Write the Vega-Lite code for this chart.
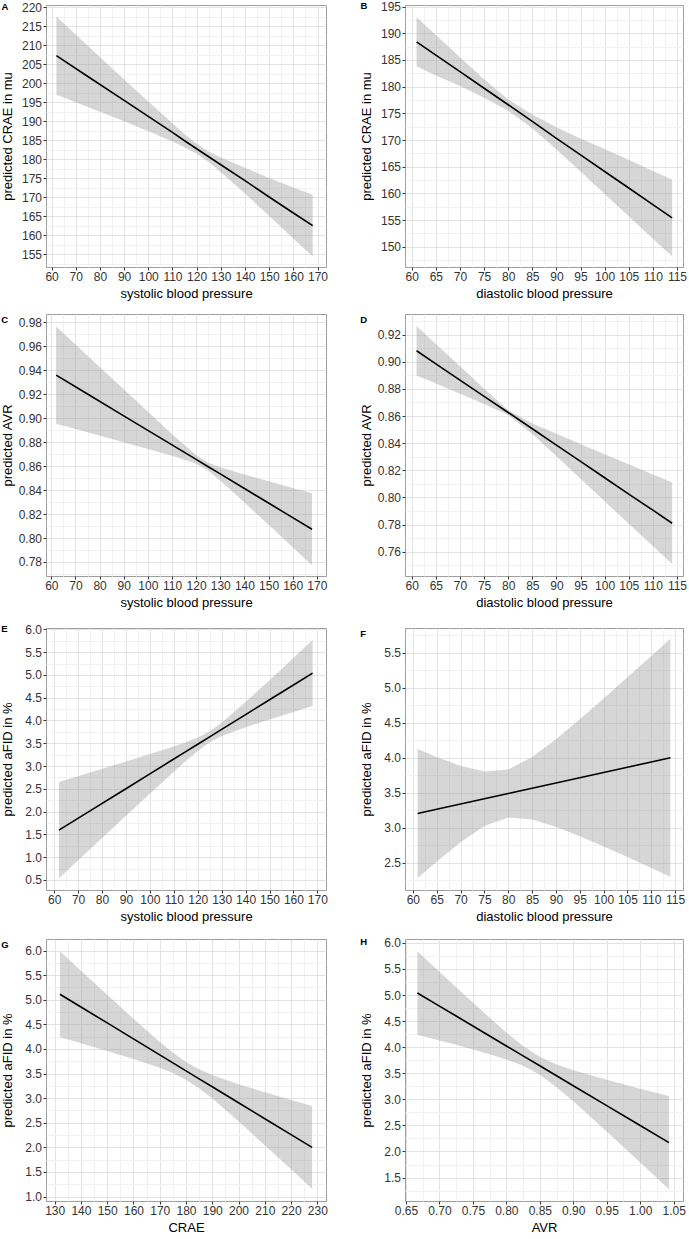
{
  "$schema": "https://vega.github.io/schema/vega-lite/v6.json",
  "padding": {"left": 0, "top": 0, "right": 0, "bottom": 0},
  "background": "white",
  "columns": 2,
  "align": {"row": "each", "column": "each"},
  "spacing": {"row": 12, "column": 30},
  "datasets": {
    "A": [
      {"x": 62, "fit": 207.3, "lo": 197.0, "hi": 217.6},
      {"x": 75, "fit": 201.8, "lo": 193.8, "hi": 209.9},
      {"x": 90, "fit": 195.5, "lo": 190.0, "hi": 201.0},
      {"x": 100, "fit": 191.3, "lo": 187.4, "hi": 195.2},
      {"x": 110, "fit": 187.1, "lo": 184.7, "hi": 189.5},
      {"x": 115, "fit": 184.9, "lo": 183.2, "hi": 186.6},
      {"x": 120, "fit": 182.8, "lo": 181.5, "hi": 184.1},
      {"x": 125, "fit": 180.7, "lo": 179.3, "hi": 182.1},
      {"x": 130, "fit": 178.6, "lo": 176.6, "hi": 180.5},
      {"x": 140, "fit": 174.4, "lo": 171.0, "hi": 177.8},
      {"x": 150, "fit": 170.1, "lo": 165.1, "hi": 175.1},
      {"x": 160, "fit": 165.9, "lo": 159.2, "hi": 172.6},
      {"x": 168, "fit": 162.6, "lo": 154.5, "hi": 170.7}
    ],
    "B": [
      {"x": 61, "fit": 188.4, "lo": 183.8, "hi": 193.0},
      {"x": 65, "fit": 185.9, "lo": 182.1, "hi": 189.7},
      {"x": 70, "fit": 182.8, "lo": 180.1, "hi": 185.5},
      {"x": 75, "fit": 179.7, "lo": 177.9, "hi": 181.4},
      {"x": 80, "fit": 176.6, "lo": 175.5, "hi": 177.6},
      {"x": 85, "fit": 173.5, "lo": 172.2, "hi": 174.8},
      {"x": 90, "fit": 170.3, "lo": 168.2, "hi": 172.4},
      {"x": 95, "fit": 167.2, "lo": 164.1, "hi": 170.3},
      {"x": 100, "fit": 164.1, "lo": 159.9, "hi": 168.3},
      {"x": 105, "fit": 161.0, "lo": 155.7, "hi": 166.3},
      {"x": 110, "fit": 157.9, "lo": 151.5, "hi": 164.2},
      {"x": 114, "fit": 155.4, "lo": 148.2, "hi": 162.6}
    ],
    "C": [
      {"x": 62, "fit": 0.9360, "lo": 0.8954, "hi": 0.9766},
      {"x": 75, "fit": 0.9202, "lo": 0.8882, "hi": 0.9522},
      {"x": 90, "fit": 0.9020, "lo": 0.8799, "hi": 0.9241},
      {"x": 100, "fit": 0.8899, "lo": 0.8743, "hi": 0.9055},
      {"x": 110, "fit": 0.8777, "lo": 0.8686, "hi": 0.8868},
      {"x": 115, "fit": 0.8717, "lo": 0.8656, "hi": 0.8778},
      {"x": 120, "fit": 0.8656, "lo": 0.8620, "hi": 0.8692},
      {"x": 125, "fit": 0.8595, "lo": 0.8562, "hi": 0.8628},
      {"x": 130, "fit": 0.8535, "lo": 0.8480, "hi": 0.8590},
      {"x": 140, "fit": 0.8413, "lo": 0.8296, "hi": 0.8530},
      {"x": 150, "fit": 0.8292, "lo": 0.8110, "hi": 0.8474},
      {"x": 160, "fit": 0.8170, "lo": 0.7923, "hi": 0.8418},
      {"x": 168, "fit": 0.8073, "lo": 0.7773, "hi": 0.8373}
    ],
    "D": [
      {"x": 61, "fit": 0.9081, "lo": 0.8898, "hi": 0.9264},
      {"x": 65, "fit": 0.8985, "lo": 0.8839, "hi": 0.9131},
      {"x": 70, "fit": 0.8865, "lo": 0.8764, "hi": 0.8966},
      {"x": 75, "fit": 0.8745, "lo": 0.8688, "hi": 0.8802},
      {"x": 80, "fit": 0.8626, "lo": 0.8608, "hi": 0.8643},
      {"x": 85, "fit": 0.8506, "lo": 0.8467, "hi": 0.8545},
      {"x": 90, "fit": 0.8386, "lo": 0.8303, "hi": 0.8469},
      {"x": 95, "fit": 0.8266, "lo": 0.8138, "hi": 0.8394},
      {"x": 100, "fit": 0.8145, "lo": 0.7972, "hi": 0.8319},
      {"x": 105, "fit": 0.8025, "lo": 0.7806, "hi": 0.8244},
      {"x": 110, "fit": 0.7906, "lo": 0.7642, "hi": 0.8170},
      {"x": 114, "fit": 0.7810, "lo": 0.7509, "hi": 0.8111}
    ],
    "E": [
      {"x": 62, "fit": 1.593, "lo": 0.536, "hi": 2.650},
      {"x": 75, "fit": 2.016, "lo": 1.173, "hi": 2.858},
      {"x": 90, "fit": 2.503, "lo": 1.907, "hi": 3.100},
      {"x": 100, "fit": 2.829, "lo": 2.394, "hi": 3.263},
      {"x": 110, "fit": 3.154, "lo": 2.875, "hi": 3.432},
      {"x": 115, "fit": 3.316, "lo": 3.110, "hi": 3.523},
      {"x": 120, "fit": 3.479, "lo": 3.332, "hi": 3.626},
      {"x": 125, "fit": 3.642, "lo": 3.522, "hi": 3.762},
      {"x": 130, "fit": 3.804, "lo": 3.659, "hi": 3.949},
      {"x": 140, "fit": 4.129, "lo": 3.854, "hi": 4.404},
      {"x": 150, "fit": 4.455, "lo": 4.024, "hi": 4.886},
      {"x": 160, "fit": 4.780, "lo": 4.187, "hi": 5.373},
      {"x": 168, "fit": 5.040, "lo": 4.316, "hi": 5.764}
    ],
    "F": [
      {"x": 61, "fit": 3.205, "lo": 2.285, "hi": 4.125},
      {"x": 65, "fit": 3.265, "lo": 2.518, "hi": 4.012},
      {"x": 70, "fit": 3.340, "lo": 2.794, "hi": 3.886},
      {"x": 75, "fit": 3.415, "lo": 3.026, "hi": 3.805},
      {"x": 80, "fit": 3.490, "lo": 3.147, "hi": 3.833},
      {"x": 85, "fit": 3.565, "lo": 3.121, "hi": 4.009},
      {"x": 90, "fit": 3.640, "lo": 3.017, "hi": 4.263},
      {"x": 95, "fit": 3.715, "lo": 2.882, "hi": 4.548},
      {"x": 100, "fit": 3.790, "lo": 2.736, "hi": 4.844},
      {"x": 105, "fit": 3.865, "lo": 2.584, "hi": 5.146},
      {"x": 110, "fit": 3.940, "lo": 2.429, "hi": 5.451},
      {"x": 114, "fit": 4.000, "lo": 2.303, "hi": 5.697}
    ],
    "G": [
      {"x": 132, "fit": 5.113, "lo": 4.238, "hi": 5.988},
      {"x": 140, "fit": 4.853, "lo": 4.114, "hi": 5.592},
      {"x": 150, "fit": 4.529, "lo": 3.958, "hi": 5.100},
      {"x": 160, "fit": 4.204, "lo": 3.795, "hi": 4.613},
      {"x": 170, "fit": 3.880, "lo": 3.617, "hi": 4.143},
      {"x": 175, "fit": 3.718, "lo": 3.510, "hi": 3.926},
      {"x": 180, "fit": 3.556, "lo": 3.375, "hi": 3.737},
      {"x": 185, "fit": 3.393, "lo": 3.200, "hi": 3.586},
      {"x": 190, "fit": 3.231, "lo": 2.992, "hi": 3.470},
      {"x": 200, "fit": 2.907, "lo": 2.529, "hi": 3.285},
      {"x": 210, "fit": 2.582, "lo": 2.044, "hi": 3.120},
      {"x": 220, "fit": 2.258, "lo": 1.553, "hi": 2.963},
      {"x": 228, "fit": 1.999, "lo": 1.158, "hi": 2.840}
    ],
    "H": [
      {"x": 0.667, "fit": 5.040, "lo": 4.240, "hi": 5.840},
      {"x": 0.700, "fit": 4.788, "lo": 4.130, "hi": 5.446},
      {"x": 0.725, "fit": 4.597, "lo": 4.045, "hi": 5.150},
      {"x": 0.750, "fit": 4.406, "lo": 3.957, "hi": 4.855},
      {"x": 0.775, "fit": 4.215, "lo": 3.866, "hi": 4.564},
      {"x": 0.800, "fit": 4.024, "lo": 3.765, "hi": 4.283},
      {"x": 0.825, "fit": 3.834, "lo": 3.644, "hi": 4.024},
      {"x": 0.850, "fit": 3.643, "lo": 3.471, "hi": 3.815},
      {"x": 0.875, "fit": 3.452, "lo": 3.234, "hi": 3.670},
      {"x": 0.900, "fit": 3.261, "lo": 2.962, "hi": 3.560},
      {"x": 0.950, "fit": 2.879, "lo": 2.382, "hi": 3.376},
      {"x": 1.000, "fit": 2.497, "lo": 1.789, "hi": 3.205},
      {"x": 1.043, "fit": 2.169, "lo": 1.276, "hi": 3.062}
    ]
  },
  "concat": [
    {
      "title": "A", "width": 280, "height": 262, "data": {"name": "A"},
      "encoding": {"x": {"field": "x", "type": "quantitative", "scale": {"domain": [57.7, 173.5], "nice": false, "zero": false},
        "axis": {"title": "systolic blood pressure", "values": [60,65,70,75,80,85,90,95,100,105,110,115,120,125,130,135,140,145,150,155,160,165,170], "format": "d",
          "labelExpr": "datum.value % 10 == 0 ? datum.label : ''",
          "gridColor": {"condition": {"test": "datum.value % 10 == 0", "value": "#e3e3e3"}, "value": "#f1f1f1"},
          "tickOpacity": {"condition": {"test": "datum.value % 10 == 0", "value": 1}, "value": 0}}}},
      "layer": [
        {"mark": {"type": "area", "color": "#999999", "opacity": 0.4},
         "encoding": {"y": {"field": "lo", "type": "quantitative", "scale": {"domain": [151.7, 220.6], "nice": false, "zero": false},
           "axis": {"title": "predicted CRAE in mu", "titlePadding": 7, "values": [152.5,155,157.5,160,162.5,165,167.5,170,172.5,175,177.5,180,182.5,185,187.5,190,192.5,195,197.5,200,202.5,205,207.5,210,212.5,215,217.5,220], "format": "d",
             "labelExpr": "datum.value % 5 == 0 ? datum.label : ''",
             "gridColor": {"condition": {"test": "datum.value % 5 == 0", "value": "#e3e3e3"}, "value": "#f1f1f1"},
             "tickOpacity": {"condition": {"test": "datum.value % 5 == 0", "value": 1}, "value": 0}}},
           "y2": {"field": "hi"}}},
        {"mark": {"type": "line", "color": "black", "strokeWidth": 1.6},
         "encoding": {"y": {"field": "fit", "type": "quantitative", "scale": {"domain": [151.7, 220.6], "nice": false, "zero": false},
           "axis": {"title": "predicted CRAE in mu", "titlePadding": 7, "values": [152.5,155,157.5,160,162.5,165,167.5,170,172.5,175,177.5,180,182.5,185,187.5,190,192.5,195,197.5,200,202.5,205,207.5,210,212.5,215,217.5,220], "format": "d",
             "labelExpr": "datum.value % 5 == 0 ? datum.label : ''",
             "gridColor": {"condition": {"test": "datum.value % 5 == 0", "value": "#e3e3e3"}, "value": "#f1f1f1"},
             "tickOpacity": {"condition": {"test": "datum.value % 5 == 0", "value": 1}, "value": 0}}}}}
      ]
    },
    {
      "title": "B", "width": 278, "height": 262, "data": {"name": "B"},
      "encoding": {"x": {"field": "x", "type": "quantitative", "scale": {"domain": [58.6, 116.25], "nice": false, "zero": false},
        "axis": {"title": "diastolic blood pressure", "values": [60,62.5,65,67.5,70,72.5,75,77.5,80,82.5,85,87.5,90,92.5,95,97.5,100,102.5,105,107.5,110,112.5,115], "format": "d",
          "labelExpr": "datum.value % 5 == 0 ? datum.label : ''",
          "gridColor": {"condition": {"test": "datum.value % 5 == 0", "value": "#e3e3e3"}, "value": "#f1f1f1"},
          "tickOpacity": {"condition": {"test": "datum.value % 5 == 0", "value": 1}, "value": 0}}}},
      "layer": [
        {"mark": {"type": "area", "color": "#999999", "opacity": 0.4},
         "encoding": {"y": {"field": "lo", "type": "quantitative", "scale": {"domain": [146.2, 195.3], "nice": false, "zero": false},
           "axis": {"title": "predicted CRAE in mu", "titlePadding": 7, "values": [147.5,150,152.5,155,157.5,160,162.5,165,167.5,170,172.5,175,177.5,180,182.5,185,187.5,190,192.5,195], "format": "d",
             "labelExpr": "datum.value % 5 == 0 ? datum.label : ''",
             "gridColor": {"condition": {"test": "datum.value % 5 == 0", "value": "#e3e3e3"}, "value": "#f1f1f1"},
             "tickOpacity": {"condition": {"test": "datum.value % 5 == 0", "value": 1}, "value": 0}}},
           "y2": {"field": "hi"}}},
        {"mark": {"type": "line", "color": "black", "strokeWidth": 1.6},
         "encoding": {"y": {"field": "fit", "type": "quantitative", "scale": {"domain": [146.2, 195.3], "nice": false, "zero": false},
           "axis": {"title": "predicted CRAE in mu", "titlePadding": 7, "values": [147.5,150,152.5,155,157.5,160,162.5,165,167.5,170,172.5,175,177.5,180,182.5,185,187.5,190,192.5,195], "format": "d",
             "labelExpr": "datum.value % 5 == 0 ? datum.label : ''",
             "gridColor": {"condition": {"test": "datum.value % 5 == 0", "value": "#e3e3e3"}, "value": "#f1f1f1"},
             "tickOpacity": {"condition": {"test": "datum.value % 5 == 0", "value": 1}, "value": 0}}}}}
      ]
    },
    {
      "title": "C", "width": 280, "height": 262, "data": {"name": "C"},
      "encoding": {"x": {"field": "x", "type": "quantitative", "scale": {"domain": [57.8, 173.8], "nice": false, "zero": false},
        "axis": {"title": "systolic blood pressure", "values": [60,65,70,75,80,85,90,95,100,105,110,115,120,125,130,135,140,145,150,155,160,165,170], "format": "d",
          "labelExpr": "datum.value % 10 == 0 ? datum.label : ''",
          "gridColor": {"condition": {"test": "datum.value % 10 == 0", "value": "#e3e3e3"}, "value": "#f1f1f1"},
          "tickOpacity": {"condition": {"test": "datum.value % 10 == 0", "value": 1}, "value": 0}}}},
      "layer": [
        {"mark": {"type": "area", "color": "#999999", "opacity": 0.4},
         "encoding": {"y": {"field": "lo", "type": "quantitative", "scale": {"domain": [0.7683, 0.987], "nice": false, "zero": false},
           "axis": {"title": "predicted AVR", "titlePadding": 4, "values": [0.77,0.78,0.79,0.80,0.81,0.82,0.83,0.84,0.85,0.86,0.87,0.88,0.89,0.90,0.91,0.92,0.93,0.94,0.95,0.96,0.97,0.98], "format": ".2f",
             "labelExpr": "round(datum.value * 100) % 2 == 0 ? datum.label : ''",
             "gridColor": {"condition": {"test": "round(datum.value * 100) % 2 == 0", "value": "#e3e3e3"}, "value": "#f1f1f1"},
             "tickOpacity": {"condition": {"test": "round(datum.value * 100) % 2 == 0", "value": 1}, "value": 0}}},
           "y2": {"field": "hi"}}},
        {"mark": {"type": "line", "color": "black", "strokeWidth": 1.6},
         "encoding": {"y": {"field": "fit", "type": "quantitative", "scale": {"domain": [0.7683, 0.987], "nice": false, "zero": false},
           "axis": {"title": "predicted AVR", "titlePadding": 4, "values": [0.77,0.78,0.79,0.80,0.81,0.82,0.83,0.84,0.85,0.86,0.87,0.88,0.89,0.90,0.91,0.92,0.93,0.94,0.95,0.96,0.97,0.98], "format": ".2f",
             "labelExpr": "round(datum.value * 100) % 2 == 0 ? datum.label : ''",
             "gridColor": {"condition": {"test": "round(datum.value * 100) % 2 == 0", "value": "#e3e3e3"}, "value": "#f1f1f1"},
             "tickOpacity": {"condition": {"test": "round(datum.value * 100) % 2 == 0", "value": 1}, "value": 0}}}}}
      ]
    },
    {
      "title": "D", "width": 278, "height": 262, "data": {"name": "D"},
      "encoding": {"x": {"field": "x", "type": "quantitative", "scale": {"domain": [58.6, 116.25], "nice": false, "zero": false},
        "axis": {"title": "diastolic blood pressure", "values": [60,62.5,65,67.5,70,72.5,75,77.5,80,82.5,85,87.5,90,92.5,95,97.5,100,102.5,105,107.5,110,112.5,115], "format": "d",
          "labelExpr": "datum.value % 5 == 0 ? datum.label : ''",
          "gridColor": {"condition": {"test": "datum.value % 5 == 0", "value": "#e3e3e3"}, "value": "#f1f1f1"},
          "tickOpacity": {"condition": {"test": "datum.value % 5 == 0", "value": 1}, "value": 0}}}},
      "layer": [
        {"mark": {"type": "area", "color": "#999999", "opacity": 0.4},
         "encoding": {"y": {"field": "lo", "type": "quantitative", "scale": {"domain": [0.7421, 0.9352], "nice": false, "zero": false},
           "axis": {"title": "predicted AVR", "titlePadding": 4, "values": [0.75,0.76,0.77,0.78,0.79,0.80,0.81,0.82,0.83,0.84,0.85,0.86,0.87,0.88,0.89,0.90,0.91,0.92,0.93], "format": ".2f",
             "labelExpr": "round(datum.value * 100) % 2 == 0 ? datum.label : ''",
             "gridColor": {"condition": {"test": "round(datum.value * 100) % 2 == 0", "value": "#e3e3e3"}, "value": "#f1f1f1"},
             "tickOpacity": {"condition": {"test": "round(datum.value * 100) % 2 == 0", "value": 1}, "value": 0}}},
           "y2": {"field": "hi"}}},
        {"mark": {"type": "line", "color": "black", "strokeWidth": 1.6},
         "encoding": {"y": {"field": "fit", "type": "quantitative", "scale": {"domain": [0.7421, 0.9352], "nice": false, "zero": false},
           "axis": {"title": "predicted AVR", "titlePadding": 4, "values": [0.75,0.76,0.77,0.78,0.79,0.80,0.81,0.82,0.83,0.84,0.85,0.86,0.87,0.88,0.89,0.90,0.91,0.92,0.93], "format": ".2f",
             "labelExpr": "round(datum.value * 100) % 2 == 0 ? datum.label : ''",
             "gridColor": {"condition": {"test": "round(datum.value * 100) % 2 == 0", "value": "#e3e3e3"}, "value": "#f1f1f1"},
             "tickOpacity": {"condition": {"test": "round(datum.value * 100) % 2 == 0", "value": 1}, "value": 0}}}}}
      ]
    },
    {
      "title": "E", "width": 280, "height": 262, "data": {"name": "E"},
      "encoding": {"x": {"field": "x", "type": "quantitative", "scale": {"domain": [56.6, 173.6], "nice": false, "zero": false},
        "axis": {"title": "systolic blood pressure", "values": [60,65,70,75,80,85,90,95,100,105,110,115,120,125,130,135,140,145,150,155,160,165,170], "format": "d",
          "labelExpr": "datum.value % 10 == 0 ? datum.label : ''",
          "gridColor": {"condition": {"test": "datum.value % 10 == 0", "value": "#e3e3e3"}, "value": "#f1f1f1"},
          "tickOpacity": {"condition": {"test": "datum.value % 10 == 0", "value": 1}, "value": 0}}}},
      "layer": [
        {"mark": {"type": "area", "color": "#999999", "opacity": 0.4},
         "encoding": {"y": {"field": "lo", "type": "quantitative", "scale": {"domain": [0.28, 6.03], "nice": false, "zero": false},
           "axis": {"title": "predicted aFID in %", "titlePadding": 10.5, "values": [0.5,0.75,1.0,1.25,1.5,1.75,2.0,2.25,2.5,2.75,3.0,3.25,3.5,3.75,4.0,4.25,4.5,4.75,5.0,5.25,5.5,5.75,6.0], "format": ".1f",
             "labelExpr": "round(datum.value * 100) % 50 == 0 ? datum.label : ''",
             "gridColor": {"condition": {"test": "round(datum.value * 100) % 50 == 0", "value": "#e3e3e3"}, "value": "#f1f1f1"},
             "tickOpacity": {"condition": {"test": "round(datum.value * 100) % 50 == 0", "value": 1}, "value": 0}}},
           "y2": {"field": "hi"}}},
        {"mark": {"type": "line", "color": "black", "strokeWidth": 1.6},
         "encoding": {"y": {"field": "fit", "type": "quantitative", "scale": {"domain": [0.28, 6.03], "nice": false, "zero": false},
           "axis": {"title": "predicted aFID in %", "titlePadding": 10.5, "values": [0.5,0.75,1.0,1.25,1.5,1.75,2.0,2.25,2.5,2.75,3.0,3.25,3.5,3.75,4.0,4.25,4.5,4.75,5.0,5.25,5.5,5.75,6.0], "format": ".1f",
             "labelExpr": "round(datum.value * 100) % 50 == 0 ? datum.label : ''",
             "gridColor": {"condition": {"test": "round(datum.value * 100) % 50 == 0", "value": "#e3e3e3"}, "value": "#f1f1f1"},
             "tickOpacity": {"condition": {"test": "round(datum.value * 100) % 50 == 0", "value": 1}, "value": 0}}}}}
      ]
    },
    {
      "title": "F", "width": 278, "height": 262, "data": {"name": "F"},
      "encoding": {"x": {"field": "x", "type": "quantitative", "scale": {"domain": [58.35, 116.65], "nice": false, "zero": false},
        "axis": {"title": "diastolic blood pressure", "values": [60,62.5,65,67.5,70,72.5,75,77.5,80,82.5,85,87.5,90,92.5,95,97.5,100,102.5,105,107.5,110,112.5,115], "format": "d",
          "labelExpr": "datum.value % 5 == 0 ? datum.label : ''",
          "gridColor": {"condition": {"test": "datum.value % 5 == 0", "value": "#e3e3e3"}, "value": "#f1f1f1"},
          "tickOpacity": {"condition": {"test": "datum.value % 5 == 0", "value": 1}, "value": 0}}}},
      "layer": [
        {"mark": {"type": "area", "color": "#999999", "opacity": 0.4},
         "encoding": {"y": {"field": "lo", "type": "quantitative", "scale": {"domain": [2.114, 5.85], "nice": false, "zero": false},
           "axis": {"title": "predicted aFID in %", "titlePadding": 10.5, "values": [2.25,2.5,2.75,3.0,3.25,3.5,3.75,4.0,4.25,4.5,4.75,5.0,5.25,5.5,5.75], "format": ".1f",
             "labelExpr": "round(datum.value * 100) % 50 == 0 ? datum.label : ''",
             "gridColor": {"condition": {"test": "round(datum.value * 100) % 50 == 0", "value": "#e3e3e3"}, "value": "#f1f1f1"},
             "tickOpacity": {"condition": {"test": "round(datum.value * 100) % 50 == 0", "value": 1}, "value": 0}}},
           "y2": {"field": "hi"}}},
        {"mark": {"type": "line", "color": "black", "strokeWidth": 1.6},
         "encoding": {"y": {"field": "fit", "type": "quantitative", "scale": {"domain": [2.114, 5.85], "nice": false, "zero": false},
           "axis": {"title": "predicted aFID in %", "titlePadding": 10.5, "values": [2.25,2.5,2.75,3.0,3.25,3.5,3.75,4.0,4.25,4.5,4.75,5.0,5.25,5.5,5.75], "format": ".1f",
             "labelExpr": "round(datum.value * 100) % 50 == 0 ? datum.label : ''",
             "gridColor": {"condition": {"test": "round(datum.value * 100) % 50 == 0", "value": "#e3e3e3"}, "value": "#f1f1f1"},
             "tickOpacity": {"condition": {"test": "round(datum.value * 100) % 50 == 0", "value": 1}, "value": 0}}}}}
      ]
    },
    {
      "title": "G", "width": 280, "height": 262, "data": {"name": "G"},
      "encoding": {"x": {"field": "x", "type": "quantitative", "scale": {"domain": [126.7, 233.3], "nice": false, "zero": false},
        "axis": {"title": "CRAE", "values": [130,135,140,145,150,155,160,165,170,175,180,185,190,195,200,205,210,215,220,225,230], "format": "d",
          "labelExpr": "datum.value % 10 == 0 ? datum.label : ''",
          "gridColor": {"condition": {"test": "datum.value % 10 == 0", "value": "#e3e3e3"}, "value": "#f1f1f1"},
          "tickOpacity": {"condition": {"test": "datum.value % 10 == 0", "value": 1}, "value": 0}}}},
      "layer": [
        {"mark": {"type": "area", "color": "#999999", "opacity": 0.4},
         "encoding": {"y": {"field": "lo", "type": "quantitative", "scale": {"domain": [0.91, 6.235], "nice": false, "zero": false},
           "axis": {"title": "predicted aFID in %", "titlePadding": 10.5, "values": [1.0,1.25,1.5,1.75,2.0,2.25,2.5,2.75,3.0,3.25,3.5,3.75,4.0,4.25,4.5,4.75,5.0,5.25,5.5,5.75,6.0], "format": ".1f",
             "labelExpr": "round(datum.value * 100) % 50 == 0 ? datum.label : ''",
             "gridColor": {"condition": {"test": "round(datum.value * 100) % 50 == 0", "value": "#e3e3e3"}, "value": "#f1f1f1"},
             "tickOpacity": {"condition": {"test": "round(datum.value * 100) % 50 == 0", "value": 1}, "value": 0}}},
           "y2": {"field": "hi"}}},
        {"mark": {"type": "line", "color": "black", "strokeWidth": 1.6},
         "encoding": {"y": {"field": "fit", "type": "quantitative", "scale": {"domain": [0.91, 6.235], "nice": false, "zero": false},
           "axis": {"title": "predicted aFID in %", "titlePadding": 10.5, "values": [1.0,1.25,1.5,1.75,2.0,2.25,2.5,2.75,3.0,3.25,3.5,3.75,4.0,4.25,4.5,4.75,5.0,5.25,5.5,5.75,6.0], "format": ".1f",
             "labelExpr": "round(datum.value * 100) % 50 == 0 ? datum.label : ''",
             "gridColor": {"condition": {"test": "round(datum.value * 100) % 50 == 0", "value": "#e3e3e3"}, "value": "#f1f1f1"},
             "tickOpacity": {"condition": {"test": "round(datum.value * 100) % 50 == 0", "value": 1}, "value": 0}}}}}
      ]
    },
    {
      "title": "H", "width": 278, "height": 262, "data": {"name": "H"},
      "encoding": {"x": {"field": "x", "type": "quantitative", "scale": {"domain": [0.6485, 1.064], "nice": false, "zero": false},
        "axis": {"title": "AVR", "values": [0.65,0.675,0.7,0.725,0.75,0.775,0.8,0.825,0.85,0.875,0.9,0.925,0.95,0.975,1.0,1.025,1.05], "format": ".2f",
          "labelExpr": "round(datum.value * 1000) % 50 == 0 ? datum.label : ''",
          "gridColor": {"condition": {"test": "round(datum.value * 1000) % 50 == 0", "value": "#e3e3e3"}, "value": "#f1f1f1"},
          "tickOpacity": {"condition": {"test": "round(datum.value * 1000) % 50 == 0", "value": 1}, "value": 0}}}},
      "layer": [
        {"mark": {"type": "area", "color": "#999999", "opacity": 0.4},
         "encoding": {"y": {"field": "lo", "type": "quantitative", "scale": {"domain": [1.05, 6.075], "nice": false, "zero": false},
           "axis": {"title": "predicted aFID in %", "titlePadding": 10.5, "values": [1.25,1.5,1.75,2.0,2.25,2.5,2.75,3.0,3.25,3.5,3.75,4.0,4.25,4.5,4.75,5.0,5.25,5.5,5.75,6.0], "format": ".1f",
             "labelExpr": "round(datum.value * 100) % 50 == 0 ? datum.label : ''",
             "gridColor": {"condition": {"test": "round(datum.value * 100) % 50 == 0", "value": "#e3e3e3"}, "value": "#f1f1f1"},
             "tickOpacity": {"condition": {"test": "round(datum.value * 100) % 50 == 0", "value": 1}, "value": 0}}},
           "y2": {"field": "hi"}}},
        {"mark": {"type": "line", "color": "black", "strokeWidth": 1.6},
         "encoding": {"y": {"field": "fit", "type": "quantitative", "scale": {"domain": [1.05, 6.075], "nice": false, "zero": false},
           "axis": {"title": "predicted aFID in %", "titlePadding": 10.5, "values": [1.25,1.5,1.75,2.0,2.25,2.5,2.75,3.0,3.25,3.5,3.75,4.0,4.25,4.5,4.75,5.0,5.25,5.5,5.75,6.0], "format": ".1f",
             "labelExpr": "round(datum.value * 100) % 50 == 0 ? datum.label : ''",
             "gridColor": {"condition": {"test": "round(datum.value * 100) % 50 == 0", "value": "#e3e3e3"}, "value": "#f1f1f1"},
             "tickOpacity": {"condition": {"test": "round(datum.value * 100) % 50 == 0", "value": 1}, "value": 0}}}}}
      ]
    }
  ],
  "config": {
    "font": "Liberation Sans",
    "view": {"stroke": "#9e9e9e", "strokeWidth": 1},
    "axis": {
      "domain": false,
      "minExtent": 0,
      "tickSize": 3,
      "tickColor": "#333333",
      "labelPadding": 1.5,
      "labelFontSize": 12,
      "labelColor": "#333333",
      "labelOverlap": false,
      "labelFlush": false,
      "titleFontSize": 13,
      "titleFontWeight": "normal",
      "titleColor": "#000000",
      "gridWidth": 1
    },
    "axisX": {"titlePadding": 5},
    "axisY": {"titlePadding": 7},
    "title": {"anchor": "start", "frame": "bounds", "fontSize": 9.5, "fontWeight": "bold", "color": "#000000", "offset": -10, "dx": 0}
  }
}
